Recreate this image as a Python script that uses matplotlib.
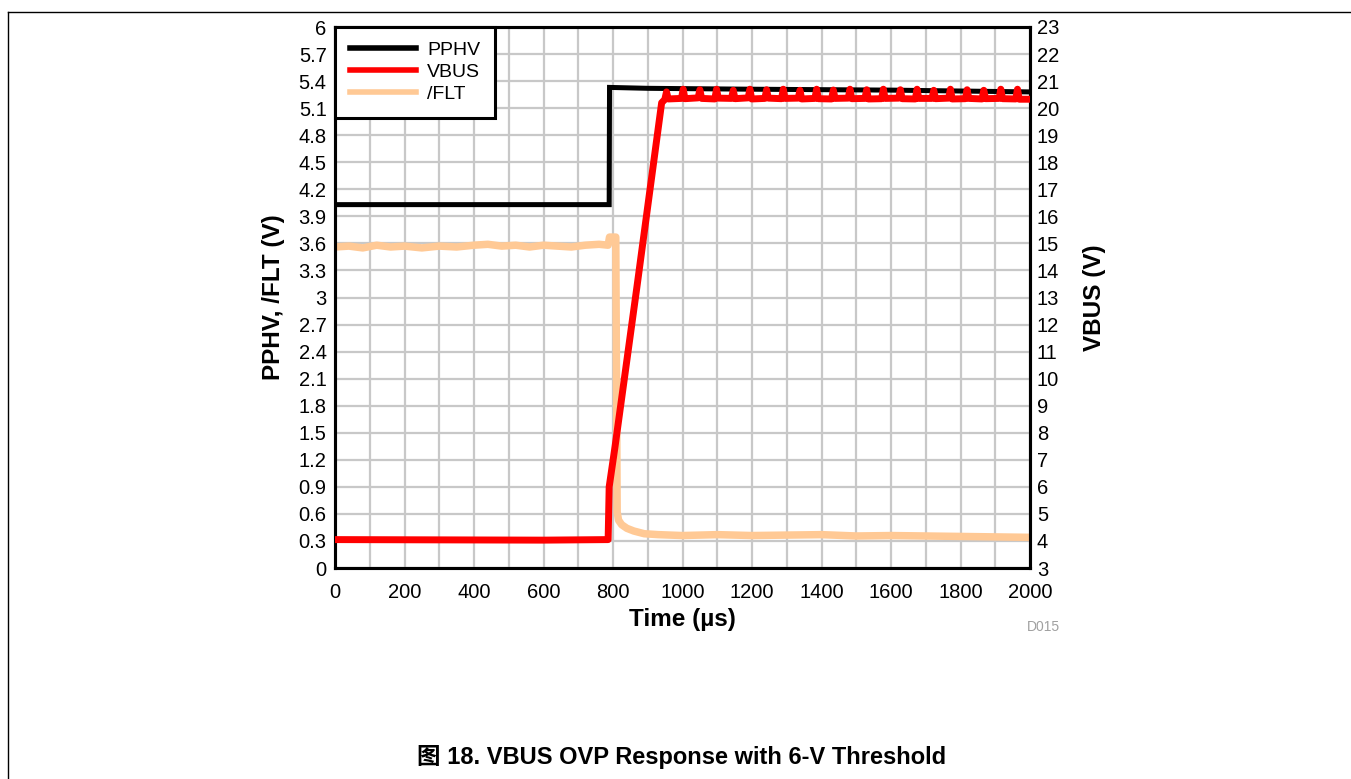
import numpy as np
import matplotlib
matplotlib.use("Agg")
import matplotlib.pyplot as plt
from matplotlib.lines import Line2D

plt.rcParams['font.family'] = ['Liberation Sans', 'Noto Sans CJK SC', 'DejaVu Sans']

# PPHV (left axis, V)
pphv_t = [0, 400, 789, 790, 900, 1200, 1600, 2000]
pphv_v = [4.03, 4.03, 4.03, 5.33, 5.32, 5.31, 5.30, 5.28]

# VBUS (right axis, V)
vbus_t = [0, 300, 600, 786, 789, 806, 870, 940, 949, 954, 959,
          997, 1002, 1007, 1045, 1050, 1055, 1093, 1098, 1103,
          1141, 1146, 1151, 1189, 1194, 1199, 1237, 1242, 1247,
          1285, 1290, 1295, 1333, 1338, 1343, 1381, 1386, 1391,
          1429, 1434, 1439, 1477, 1482, 1487, 1525, 1530, 1535,
          1573, 1578, 1583, 1622, 1627, 1632, 1670, 1675, 1680,
          1718, 1723, 1728, 1766, 1771, 1776, 1814, 1819, 1824,
          1862, 1867, 1872, 1911, 1916, 1921, 1959, 1964, 1969, 2000]
vbus_v = [4.05, 4.04, 4.03, 4.05, 6.0, 7.5, 13.5, 20.2, 20.32, 20.6, 20.34,
          20.36, 20.7, 20.35, 20.38, 20.68, 20.36, 20.34, 20.7, 20.37,
          20.36, 20.66, 20.35, 20.38, 20.7, 20.34, 20.36, 20.68, 20.37,
          20.35, 20.7, 20.36, 20.37, 20.66, 20.34, 20.36, 20.7, 20.35,
          20.34, 20.67, 20.36, 20.37, 20.7, 20.35, 20.36, 20.68, 20.34,
          20.35, 20.7, 20.36, 20.37, 20.68, 20.35, 20.34, 20.7, 20.36,
          20.36, 20.66, 20.35, 20.37, 20.7, 20.34, 20.35, 20.68, 20.36,
          20.34, 20.66, 20.35, 20.36, 20.7, 20.35, 20.34, 20.7, 20.33, 20.33]

# /FLT (left axis, V)
flt_t = [0, 40, 80, 120, 160, 200, 250, 300, 350, 400, 440, 480, 520, 560,
         600, 640, 680, 720, 760, 786, 790, 808, 812, 816, 825, 840, 860,
         890, 930, 1000, 1100, 1200, 1300, 1400, 1500, 1600, 1700, 1800,
         1900, 2000]
flt_v = [3.56, 3.57, 3.55, 3.58, 3.56, 3.57, 3.55, 3.57, 3.56, 3.58, 3.59,
         3.57, 3.58, 3.56, 3.58, 3.57, 3.56, 3.58, 3.59, 3.58, 3.67, 3.67,
         0.62, 0.53, 0.48, 0.44, 0.41, 0.38, 0.37, 0.36, 0.37, 0.36, 0.365,
         0.37, 0.355, 0.36, 0.355, 0.35, 0.345, 0.34]

left_ticks = [0, 0.3, 0.6, 0.9, 1.2, 1.5, 1.8, 2.1, 2.4, 2.7, 3, 3.3, 3.6,
              3.9, 4.2, 4.5, 4.8, 5.1, 5.4, 5.7, 6]
left_labels = ['0', '0.3', '0.6', '0.9', '1.2', '1.5', '1.8', '2.1', '2.4',
               '2.7', '3', '3.3', '3.6', '3.9', '4.2', '4.5', '4.8', '5.1',
               '5.4', '5.7', '6']
right_ticks = list(range(3, 24))
x_ticks = list(range(0, 2001, 200))
x_minor = list(range(0, 2001, 100))

fig = plt.figure(figsize=(13.51, 7.79), dpi=100)
ax = fig.add_axes([335 / 1351, 1 - 568 / 779, 695 / 1351, 541 / 779])
ax2 = ax.twinx()

ax.plot(pphv_t, pphv_v, color='black', lw=3.6, solid_joinstyle='miter', zorder=3)
ax.plot(flt_t, flt_v, color='#ffc995', lw=5.4, zorder=2)
ax2.plot(vbus_t, vbus_v, color='#ff0000', lw=5, solid_capstyle='round', zorder=3)

ax.set_xlim(0, 2000)
ax.set_ylim(0, 6)
ax2.set_ylim(3, 23)

ax.set_xticks(x_ticks)
ax.set_xticklabels([str(v) for v in x_ticks])
ax.set_xticks(x_minor, minor=True)
ax.set_yticks(left_ticks)
ax.set_yticklabels(left_labels)
ax2.set_yticks(right_ticks)
ax2.set_yticklabels([str(v) for v in right_ticks])

ax.grid(True, which='both', color='#c8c8c8', lw=1.6)
ax.set_axisbelow(True)
for a in (ax, ax2):
    a.tick_params(which='both', length=0, labelsize=14.5)
    for s in a.spines.values():
        s.set_linewidth(2.2)
        s.set_color('black')
ax.tick_params(axis='x', pad=11)
ax.tick_params(axis='y', pad=6)
ax2.tick_params(axis='y', pad=5)

ax.set_xlabel('Time (\u00b5s)', fontsize=17.5, fontweight='bold', labelpad=4)
ax.set_ylabel('PPHV, /FLT (V)', fontsize=17.5, fontweight='bold', labelpad=10)
ax2.set_ylabel('VBUS (V)', fontsize=17.5, fontweight='bold', labelpad=17)

handles = [Line2D([], [], color='black', lw=4),
           Line2D([], [], color='#ff0000', lw=4),
           Line2D([], [], color='#ffc995', lw=4)]
leg = ax2.legend(handles, ['PPHV', 'VBUS', '/FLT'], loc='upper left',
                 bbox_to_anchor=(0, 1), borderaxespad=0, fancybox=False,
                 framealpha=1, edgecolor='black', fontsize=14,
                 handlelength=3.4, labelspacing=0.22, handletextpad=0.6,
                 borderpad=0.75)
leg.get_frame().set_linewidth(2.2)

fig.text(1043 / 1351, 1 - 627 / 779, 'D015', color='#a0a0a0', fontsize=10,
         ha='center', va='center')
fig.text(682 / 1351, 1 - 757 / 779, '图 18. VBUS OVP Response with 6-V Threshold',
         fontsize=17, fontweight='bold', ha='center', va='center')

# page frame
fig.add_artist(Line2D([8 / 1351, 1], [1 - 12 / 779, 1 - 12 / 779], color='black', lw=1))
fig.add_artist(Line2D([8 / 1351, 8 / 1351], [0, 1 - 12 / 779], color='black', lw=1))

fig.savefig('out.png', dpi=100)
